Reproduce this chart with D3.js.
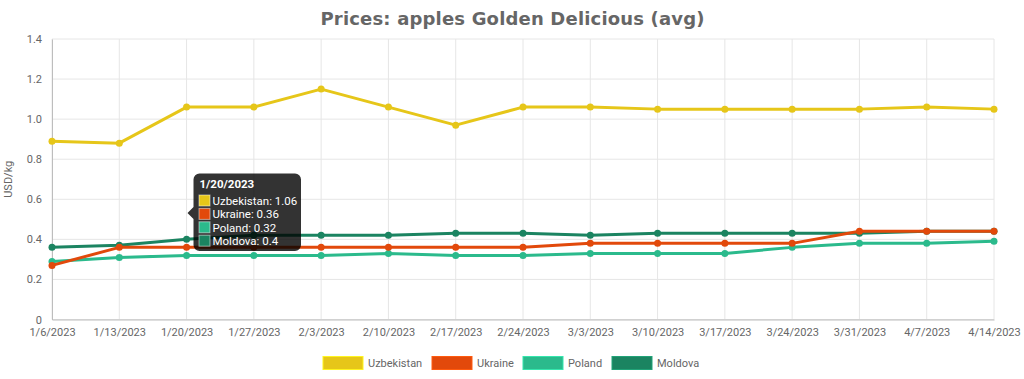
<!DOCTYPE html>
<html><head><meta charset="utf-8">
<script src="https://cdn.jsdelivr.net/npm/d3@7"></script>
<style>body{margin:0;background:#fff;}svg{display:block;}</style>
</head><body>
<svg id="c" width="1024" height="379"></svg>
<script>
const categories = ["1/6/2023","1/13/2023","1/20/2023","1/27/2023","2/3/2023","2/10/2023","2/17/2023","2/24/2023","3/3/2023","3/10/2023","3/17/2023","3/24/2023","3/31/2023","4/7/2023","4/14/2023"];
const uzbekistan = [0.89,0.88,1.06,1.06,1.15,1.06,0.97,1.06,1.06,1.05,1.05,1.05,1.05,1.06,1.05];
const ukraine    = [0.27,0.36,0.36,0.36,0.36,0.36,0.36,0.36,0.38,0.38,0.38,0.38,0.44,0.44,0.44];
const poland     = [0.29,0.31,0.32,0.32,0.32,0.33,0.32,0.32,0.33,0.33,0.33,0.36,0.38,0.38,0.39];
const moldova    = [0.36,0.37,0.40,0.42,0.42,0.42,0.43,0.43,0.42,0.43,0.43,0.43,0.43,0.44,0.44];
const seriesNames = ["Uzbekistan","Ukraine","Poland","Moldova"];
const seriesColors = ["#e6c619","#e2490b","#2bba8c","#1b8461"];
const yTicks = [0,0.2,0.4,0.6,0.8,1.0,1.2,1.4];
const title = "Prices: apples Golden Delicious (avg)";
const yLabel = "USD/kg";
const tooltipIndex = 2;

const series = [uzbekistan, ukraine, poland, moldova];
const svg = d3.select("#c");
const L = 52, R = 994, T = 39, B = 319.5;
const x = d3.scalePoint().domain(categories).range([L, R]);
const y = d3.scaleLinear().domain([0, 1.4]).range([B, T]);
const font = "Roboto, 'Liberation Sans', sans-serif";

svg.append("text").attr("x", 512.5).attr("y", 25).attr("text-anchor", "middle")
  .attr("font-family", "'DejaVu Sans', sans-serif").attr("font-weight", "bold")
  .attr("font-size", 18).attr("fill", "#666")
  .attr("textLength", 384).attr("lengthAdjust", "spacing").text(title);

// grid
const grid = svg.append("g");
grid.selectAll("line.h").data(yTicks).join("line")
  .attr("x1", L).attr("x2", R).attr("y1", d => y(d)).attr("y2", d => y(d))
  .attr("stroke", "#e6e6e6").attr("stroke-width", 1);
grid.selectAll("line.v").data(categories).join("line")
  .attr("x1", d => x(d)).attr("x2", d => x(d)).attr("y1", T).attr("y2", B)
  .attr("stroke", "#e6e6e6").attr("stroke-width", 1);

// axes
const yAxis = d3.axisLeft(y).tickValues(yTicks).tickSize(0).tickPadding(10)
  .tickFormat(d => d === 0 ? "0" : d3.format(".1f")(d));
const gy = svg.append("g").attr("transform", `translate(${L},0)`).call(yAxis);
gy.select(".domain").attr("stroke", "#bdbdbd");
gy.selectAll("text").attr("font-family", font).attr("font-size", 11).attr("fill", "#666");

const xAxis = d3.axisBottom(x).tickSize(0).tickPadding(9);
const gx = svg.append("g").attr("transform", `translate(0,${B})`).call(xAxis);
gx.select(".domain").attr("stroke", "#bdbdbd");
gx.selectAll("text").attr("font-family", font).attr("font-size", 11).attr("fill", "#666");

svg.append("text").attr("transform", `translate(12,${(T + B) / 2}) rotate(-90)`)
  .attr("text-anchor", "middle").attr("font-family", font).attr("font-size", 11)
  .attr("fill", "#666").text(yLabel);

// lines (first dataset drawn on top)
const line = d3.line().x((d, i) => x(categories[i])).y(d => y(d));
[3, 2, 1, 0].forEach(k => {
  const s = series[k];
  const g = svg.append("g");
  g.append("path").datum(s).attr("d", line).attr("fill", "none")
    .attr("stroke", seriesColors[k]).attr("stroke-width", 3).attr("stroke-linejoin", "round");
  g.selectAll("circle").data(s).join("circle")
    .attr("cx", (d, i) => x(categories[i])).attr("cy", d => y(d)).attr("r", 3.5)
    .attr("fill", seriesColors[k]);
});

// legend
const legendX = [323, 432, 523, 612];
const lg = svg.append("g");
seriesNames.forEach((n, k) => {
  lg.append("rect").attr("x", legendX[k]).attr("y", 356.5).attr("width", 40).attr("height", 13)
    .attr("fill", seriesColors[k]).attr("stroke", d3.color(seriesColors[k]).brighter(0.6)).attr("stroke-width", 1);
  lg.append("text").attr("x", legendX[k] + 45).attr("y", 366.5).attr("font-family", font)
    .attr("font-size", 11).attr("fill", "#666").text(n);
});

// tooltip
const tx = 193.5, ty = 173.5, tw = 107.5, th = 77.5, r = 6;
const cy = 213;
const tip = svg.append("g");
const p = d3.path();
p.moveTo(tx + r, ty); p.lineTo(tx + tw - r, ty); p.arcTo(tx + tw, ty, tx + tw, ty + r, r);
p.lineTo(tx + tw, ty + th - r); p.arcTo(tx + tw, ty + th, tx + tw - r, ty + th, r);
p.lineTo(tx + r, ty + th); p.arcTo(tx, ty + th, tx, ty + th - r, r);
p.lineTo(tx, cy + 6); p.lineTo(tx - 6, cy); p.lineTo(tx, cy - 6);
p.lineTo(tx, ty + r); p.arcTo(tx, ty, tx + r, ty, r); p.closePath();
tip.append("path").attr("d", p.toString()).attr("fill", "rgba(0,0,0,0.8)");
tip.append("text").attr("x", tx + 6).attr("y", ty + 14.5).attr("font-family", font)
  .attr("font-weight", "bold").attr("font-size", 11.5).attr("fill", "#fff").text(categories[tooltipIndex]);
seriesNames.forEach((n, k) => {
  const yy = ty + 21 + k * 13.4;
  tip.append("rect").attr("x", tx + 5.5).attr("y", yy + 0.5).attr("width", 11).attr("height", 11)
    .attr("fill", seriesColors[k]).attr("stroke", "#fff").attr("stroke-opacity", 0.5).attr("stroke-width", 1);
  tip.append("text").attr("x", tx + 19).attr("y", yy + 10.5).attr("font-family", font)
    .attr("font-size", 11.5).attr("fill", "#fff").text(n + ": " + series[k][tooltipIndex]);
});
</script>
</body></html>
